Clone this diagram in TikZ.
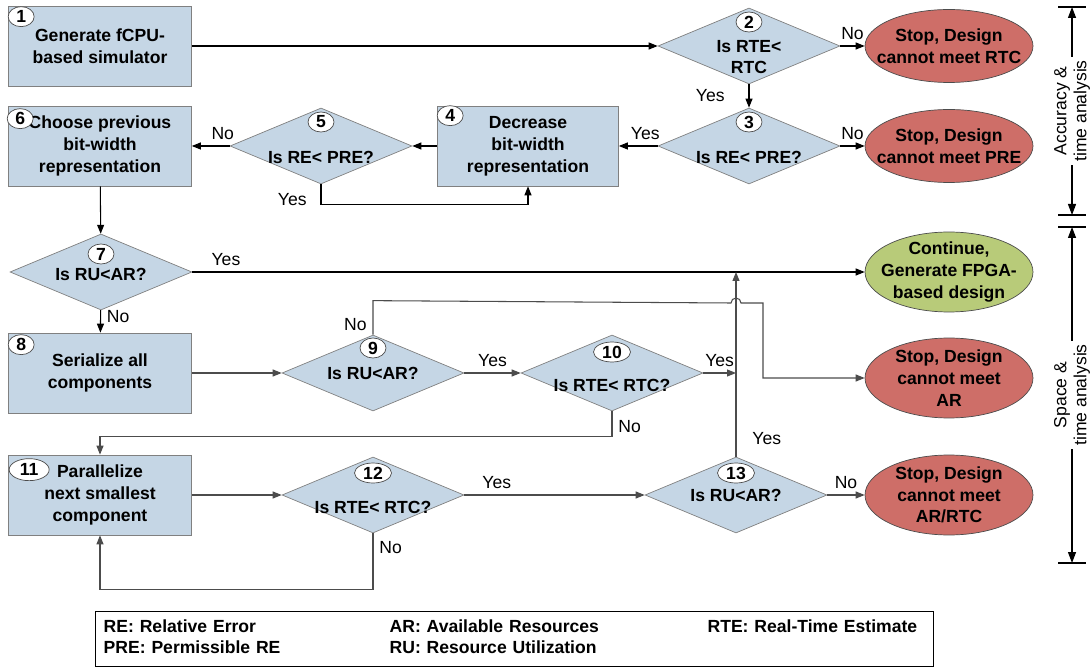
\documentclass[tikz,border=0pt]{standalone}
\usepackage{fontspec}
\setmainfont{Liberation Sans}
\usetikzlibrary{shapes.geometric, arrows.meta, positioning}
\definecolor{boxblue}{RGB}{197,214,229}
\definecolor{stopred}{RGB}{206,110,104}
\definecolor{gogreen}{RGB}{184,203,121}
\tikzstyle{process} = [rectangle, minimum width = 3.66cm, minimum height = 1.6cm, text centered, align = center, draw = gray, fill = boxblue, font = \fontsize{10}{12.4}\selectfont\bfseries]
\tikzstyle{decision} = [diamond, minimum width = 3.64cm, minimum height = 1.52cm, inner sep = 0pt, draw = gray, fill = boxblue]
\tikzstyle{cond} = [align = center, font = \fontsize{10}{11.5}\selectfont\bfseries]
\tikzstyle{stop} = [ellipse, minimum width = 3.36cm, minimum height = 1.46cm, draw = gray!60!black, fill = stopred]
\tikzstyle{go} = [ellipse, minimum width = 3.36cm, minimum height = 1.6cm, draw = gray!60!black, fill = gogreen]
\tikzstyle{endtext} = [align = center, font = \fontsize{10}{12.4}\selectfont\bfseries]
\tikzstyle{num} = [ellipse, minimum width = 0.52cm, minimum height = 0.4cm, inner sep = 0pt, draw = black!70, fill = white, font = \bfseries]
\tikzstyle{arrow} = [->, >={Triangle[length = 0.18cm, width = 0.14cm]}, line width = 0.6pt, draw = black]
\tikzstyle{garrow} = [arrow, draw = black!70]
\tikzstyle{span} = [<->, >={Triangle[length = 0.22cm, width = 0.16cm]}, line width = 0.7pt]
\tikzstyle{spantext} = [rotate = 90, fill = white, align = center, inner sep = 2pt, font = \fontsize{10}{11.4}\selectfont]
\tikzstyle{legendbox} = [draw, line width = 0.8pt, anchor = north west, text width = 16.44cm, inner xsep = 0.16cm, inner ysep = 0.12cm, minimum height = 1.1cm, align = left, font = \fontsize{10}{12}\selectfont\bfseries]

\begin{document}
\begin{tikzpicture}[x = 0.02cm, y = -0.02cm]
    \useasboundingbox (0,0) rectangle (1091,668);
    % \node(label)[style] at (x,y){text};
    \node(b1)[process] at (100,46){Generate fCPU-\\based simulator};
    \node(b6)[process] at (100,146){Choose previous\\bit-width\\representation};
    \node(b4)[process, minimum width = 3.62cm] at (528,146){Decrease\\bit-width\\representation};
    \node(b8)[process] at (100,373){Serialize all\\components};
    \node(b11)[process] at (100,495){Parallelize\\next smallest\\component};

    \node(d2)[decision] at (749,46){};
    \node(d3)[decision] at (749,146){};
    \node(d5)[decision] at (321,146){};
    \node(d7)[decision] at (101,272){};
    \node(d9)[decision] at (373,373){};
    \node(d10)[decision] at (612,373){};
    \node(d12)[decision] at (373,495){};
    \node(d13)[decision] at (736,495){};
    \node(q2)[cond] at ([yshift = -0.22cm]d2.center){Is RTE<\\RTC};
    \node(q3)[cond] at ([yshift = -0.22cm]d3.center){Is RE< PRE?};
    \node(q5)[cond] at ([yshift = -0.22cm]d5.center){Is RE< PRE?};
    \node(q7)[cond] at ([yshift = -0.04cm]d7.center){Is RU<AR?};
    \node(q9)[cond] at (d9.center){Is RU<AR?};
    \node(q10)[cond] at ([yshift = -0.24cm]d10.center){Is RTE< RTC?};
    \node(q12)[cond] at ([yshift = -0.24cm]d12.center){Is RTE< RTC?};
    \node(q13)[cond] at (d13.center){Is RU<AR?};

    \node(e1)[stop] at (949,46){};
    \node(e2)[stop] at (949,146){};
    \node(e3)[go] at (949,272){};
    \node(e4)[stop, minimum height = 1.6cm] at (949,378){};
    \node(e5)[stop, minimum height = 1.6cm] at (949,495){};
    \node(s1)[endtext] at (e1){Stop, Design\\cannot meet RTC};
    \node(s2)[endtext] at (e2){Stop, Design\\cannot meet PRE};
    \node(s3)[endtext] at (e3){Continue,\\Generate FPGA-\\based design};
    \node(s4)[endtext] at (e4){Stop, Design\\cannot meet\\AR};
    \node(s5)[endtext] at (e5){Stop, Design\\cannot meet\\AR/RTC};

    \node(n1)[num] at ([xshift = 0.26cm, yshift = -0.22cm]b1.north west){1};
    \node(n6)[num] at ([xshift = 0.24cm, yshift = -0.26cm]b6.north west){6};
    \node(n4)[num] at ([xshift = 0.26cm, yshift = -0.2cm]b4.north west){4};
    \node(n8)[num] at ([xshift = 0.26cm, yshift = -0.24cm]b8.north west){8};
    \node(n11)[num, minimum width = 0.8cm, minimum height = 0.44cm] at ([xshift = 0.42cm, yshift = -0.3cm]b11.north west){11};
    \node(n2)[num] at ([yshift = 0.48cm]d2.center){2};
    \node(n3)[num] at ([yshift = 0.48cm]d3.center){3};
    \node(n5)[num] at ([yshift = 0.48cm]d5.center){5};
    \node(n7)[num] at ([yshift = 0.36cm]d7.center){7};
    \node(n9)[num] at ([yshift = 0.5cm]d9.center){9};
    \node(n10)[num, minimum width = 0.74cm] at ([yshift = 0.42cm]d10.center){10};
    \node(n12)[num, minimum width = 0.74cm] at ([yshift = 0.44cm]d12.center){12};
    \node(n13)[num, minimum width = 0.74cm] at ([yshift = 0.44cm]d13.center){13};

    \draw[arrow](b1)--(d2);
    \draw[arrow](d2)--node[above]{No}(e1);
    \draw[arrow](d2)--node[left, xshift = -0.36cm]{Yes}(d3);
    \draw[arrow](d3)--node[above]{No}(e2);
    \draw[arrow](d3)--node[above, xshift = 0.14cm]{Yes}(b4);
    \draw[arrow](b4)--(d5);
    \draw[arrow](d5)--node[above, xshift = 0.24cm]{No}(b6);
    \draw[arrow](d5.south)--++(0,20)node[left, pos = 0.75, xshift = -0.16cm]{Yes}-|(b4.south);
    \draw[arrow](b6)--(d7);
    \draw[arrow](d7)--node[pos = 0.05, above]{Yes}(e3);
    \draw[arrow](d7)--node[right, pos = 0.3]{No}(b8);

    \coordinate(hop) at (736,303);
    \draw[garrow](b8)--(d9);
    \draw[garrow](d9)--node[above]{Yes}(d10);
    \draw[garrow](d9.north)--node[left, pos = 0.3]{No}++(0,-34)--([xshift = -0.1cm]hop)arc[start angle = 180, end angle = 0, radius = 0.1cm]--++(0.44cm,0)|-(e4.west);
    \draw[garrow](d10)--node[above]{Yes}(d10 -| d13);
    \draw[garrow](d10.south)--++(0,25)node[right, pos = 0.6]{No}-|(b11.north);
    \draw[garrow](b11)--(d12);
    \draw[garrow](d12)--node[pos = 0.18, above]{Yes}(d13);
    \draw[garrow](d12.south)--++(0,56)node[right, pos = 0.25]{No}-|(b11.south);
    \draw[garrow](d13)--node[above]{No}(e5);
    \draw[garrow](d13.north)--node[right, pos = 0.1, xshift = 0.2cm]{Yes}(d13.north |- d7.east);

    % side brackets
    \coordinate(acc1) at (1072,7);
    \coordinate(acc2) at (1072,215);
    \coordinate(spc1) at (1072,227);
    \coordinate(spc2) at (1072,563);
    \draw[span](acc1)--node[spantext]{Accuracy \&\\time analysis}(acc2);
    \draw[span](spc1)--node[spantext]{Space \&\\time analysis}(spc2);
    \foreach \p in {acc1, acc2, spc1, spc2}
        \draw[line width = 1.2pt]([xshift = -0.28cm]\p)--([xshift = 0.28cm]\p);

    \node(legend)[legendbox] at (95,611){%
        \begin{tabular}{@{}p{5.72cm}@{}p{6.36cm}@{}l@{}}
            RE: Relative Error & AR: Available Resources & RTE: Real-Time Estimate\\
            PRE: Permissible RE & RU: Resource Utilization &
        \end{tabular}};
\end{tikzpicture}
\end{document}
